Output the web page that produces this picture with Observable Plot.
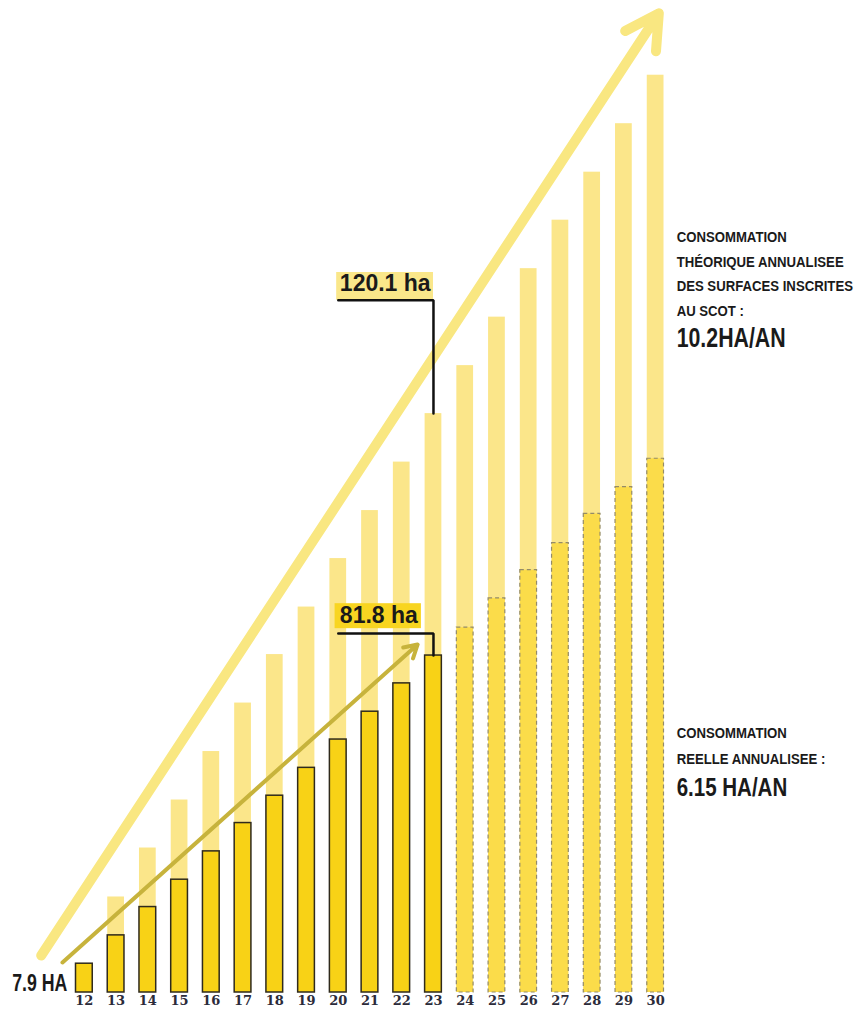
<!DOCTYPE html>
<html>
<head>
<meta charset="utf-8">
<script src="https://cdn.jsdelivr.net/npm/d3@7"></script>
<script src="https://cdn.jsdelivr.net/npm/@observablehq/plot@0.6"></script>
<style>
  html, body { margin: 0; padding: 0; background: #ffffff; }
  #chart svg { display: block; }
</style>
</head>
<body>
<div id="chart"></div>
<script>
// ---- data ----
const years = [12, 13, 14, 15, 16, 17, 18, 19, 20, 21, 22, 23, 24, 25, 26, 27, 28, 29, 30];
// theoretical cumulative consumption (SCOT), ha
const theoretical = [null, 19.9, 30.1, 40.1, 50.2, 60.3, 70.4, 80.3, 90.4, 100.4, 110.5, 120.6, 130.6, 140.7, 150.8, 160.9, 170.9, 181.0, 191.1];
// real cumulative consumption, ha
const realYears = [12, 13, 14, 15, 16, 17, 18, 19, 20, 21, 22, 23];
const realValues = [6.0, 11.9, 17.8, 23.5, 29.4, 35.3, 41.0, 46.8, 52.7, 58.5, 64.4, 70.2];
// projected consumption at the real rate, ha
const projYears = [24, 25, 26, 27, 28, 29, 30];
const projValues = [76.0, 82.1, 88.0, 93.6, 99.7, 105.3, 111.2];
// labels
const theoLabel = "120.1 ha";
const realLabel = "81.8 ha";
const startLabel = "7.9 HA";
const theoText = "CONSOMMATION\nTHÉORIQUE ANNUALISEE\nDES SURFACES INSCRITES\nAU SCOT :";
const theoRate = "10.2HA/AN";
const realText = "CONSOMMATION\nREELLE ANNUALISEE :";
const realRate = "6.15 HA/AN";
// trend arrows (year, ha)
const trendTheo = {x1: 10.64, y1: 7.7, x2: 30.1, y2: 204};
const trendReal = {x1: 11.31, y1: 6.25, x2: 22.5, y2: 72.5};

// ---- tables ----
const theoData = years.map((year, i) => ({year, value: theoretical[i]})).filter(d => d.value != null);
const realData = realYears.map((year, i) => ({year, value: realValues[i]}));
const projData = projYears.map((year, i) => ({year, value: projValues[i]}));
const theo23 = theoData.find(d => d.year === 23).value;
const real23 = realData.find(d => d.year === 23).value;
const calloutLines = [
  {k: "t", x: 20, y: 144.2}, {k: "t", x: 23, y: 144.2}, {k: "t", x: 23, y: theo23},
  {k: "r", x: 20, y: 74.8}, {k: "r", x: 23, y: 74.8}, {k: "r", x: 23, y: real23}
];
const boxes = [
  {x1: 19.95, x2: 23.0, y1: 144.2, y2: 150.0, fill: "#fae78a"},
  {x1: 19.9, x2: 22.62, y1: 75.8, y2: 81.0, fill: "#f8d521"}
];

const sans = "'Liberation Sans', Arial, sans-serif";
const ink = "#1a1a1a";

const barX = {x1: d => d.year - 0.5, x2: d => d.year + 0.5, y1: 0, y2: "value", insetLeft: 7.5, insetRight: 7.5};
const txt = (s, o) => Plot.text([s], {text: d => d, textAnchor: "start", lineAnchor: "bottom", fontWeight: "bold", fontFamily: sans, fill: ink, ...o});

const chart = Plot.plot({
  width: 857,
  height: 1009,
  marginLeft: 68,
  marginRight: 186,
  marginTop: 32,
  marginBottom: 17,
  style: {background: "#ffffff", overflow: "visible"},
  x: {domain: [11.5, 30.5], axis: null},
  y: {domain: [0, 200], axis: null},
  marks: [
    Plot.rect(theoData, {...barX, fill: "#fbe68a"}),
    Plot.rect(projData, {...barX, fill: "#fbdc4a", stroke: "#948b68", strokeWidth: 1.2, strokeDasharray: "4,3"}),
    Plot.rect(realData, {...barX, fill: "#f8d216", stroke: "#2f2a1c", strokeWidth: 1.5}),
    Plot.arrow([trendTheo], {x1: "x1", y1: "y1", x2: "x2", y2: "y2", stroke: "#f9e781", strokeWidth: 10, headLength: 5.7, headAngle: 58}),
    Plot.arrow([trendReal], {x1: "x1", y1: "y1", x2: "x2", y2: "y2", stroke: "#c7b33c", strokeWidth: 4, headLength: 5.5, headAngle: 60}),
    Plot.rect(boxes, {x1: "x1", x2: "x2", y1: "y1", y2: "y2", fill: "fill"}),
    Plot.line(calloutLines, {x: "x", y: "y", z: "k", stroke: "#111111", strokeWidth: 2.5, strokeLinejoin: "miter"}),
    txt(theoLabel, {x: 20.05, y: 146.25, fontSize: 23}),
    txt(realLabel, {x: 20.05, y: 76.9, fontSize: 23}),
    txt(startLabel, {x: 12, y: 0, dx: -17, dy: -2, textAnchor: "end", fontSize: 23}),
    txt(theoText, {x: 30, y: 141.04, dx: 21, lineHeight: 1.58, fontSize: 15.5}),
    txt(theoRate, {x: 30, y: 134.4, dx: 21, fontSize: 27}),
    txt(realText, {x: 30, y: 47.7, dx: 21, lineHeight: 1.62, fontSize: 15.5}),
    txt(realRate, {x: 30, y: 41.04, dx: 21, fontSize: 26}),
    Plot.axisX({ticks: years, tickSize: 0, tickPadding: 3, tickFormat: d => String(d), fontSize: 13, fontWeight: "bold", fontFamily: "'DejaVu Serif', serif", fill: "#2b2b3a", label: null})
  ]
});
// horizontally condense the headline texts (the original uses a condensed face)
const condense = new Map([
  [startLabel, 0.77],
  [theoText.replace(/\n/g, ""), 0.85], [realText.replace(/\n/g, ""), 0.85],
  [theoRate, 0.79], [realRate, 0.79]
]);
chart.querySelectorAll("text").forEach(t => {
  const k = condense.get(t.textContent);
  if (k == null) return;
  const tr = t.getAttribute("transform");
  if (tr) {
    t.setAttribute("transform", tr + ` scale(${k},1)`);
  } else {
    const x = parseFloat(t.getAttribute("x")) || 0;
    const y = parseFloat(t.getAttribute("y")) || 0;
    t.setAttribute("transform", `translate(${x},${y}) scale(${k},1) translate(${-x},${-y})`);
  }
});
document.getElementById("chart").appendChild(chart);
</script>
</body>
</html>
